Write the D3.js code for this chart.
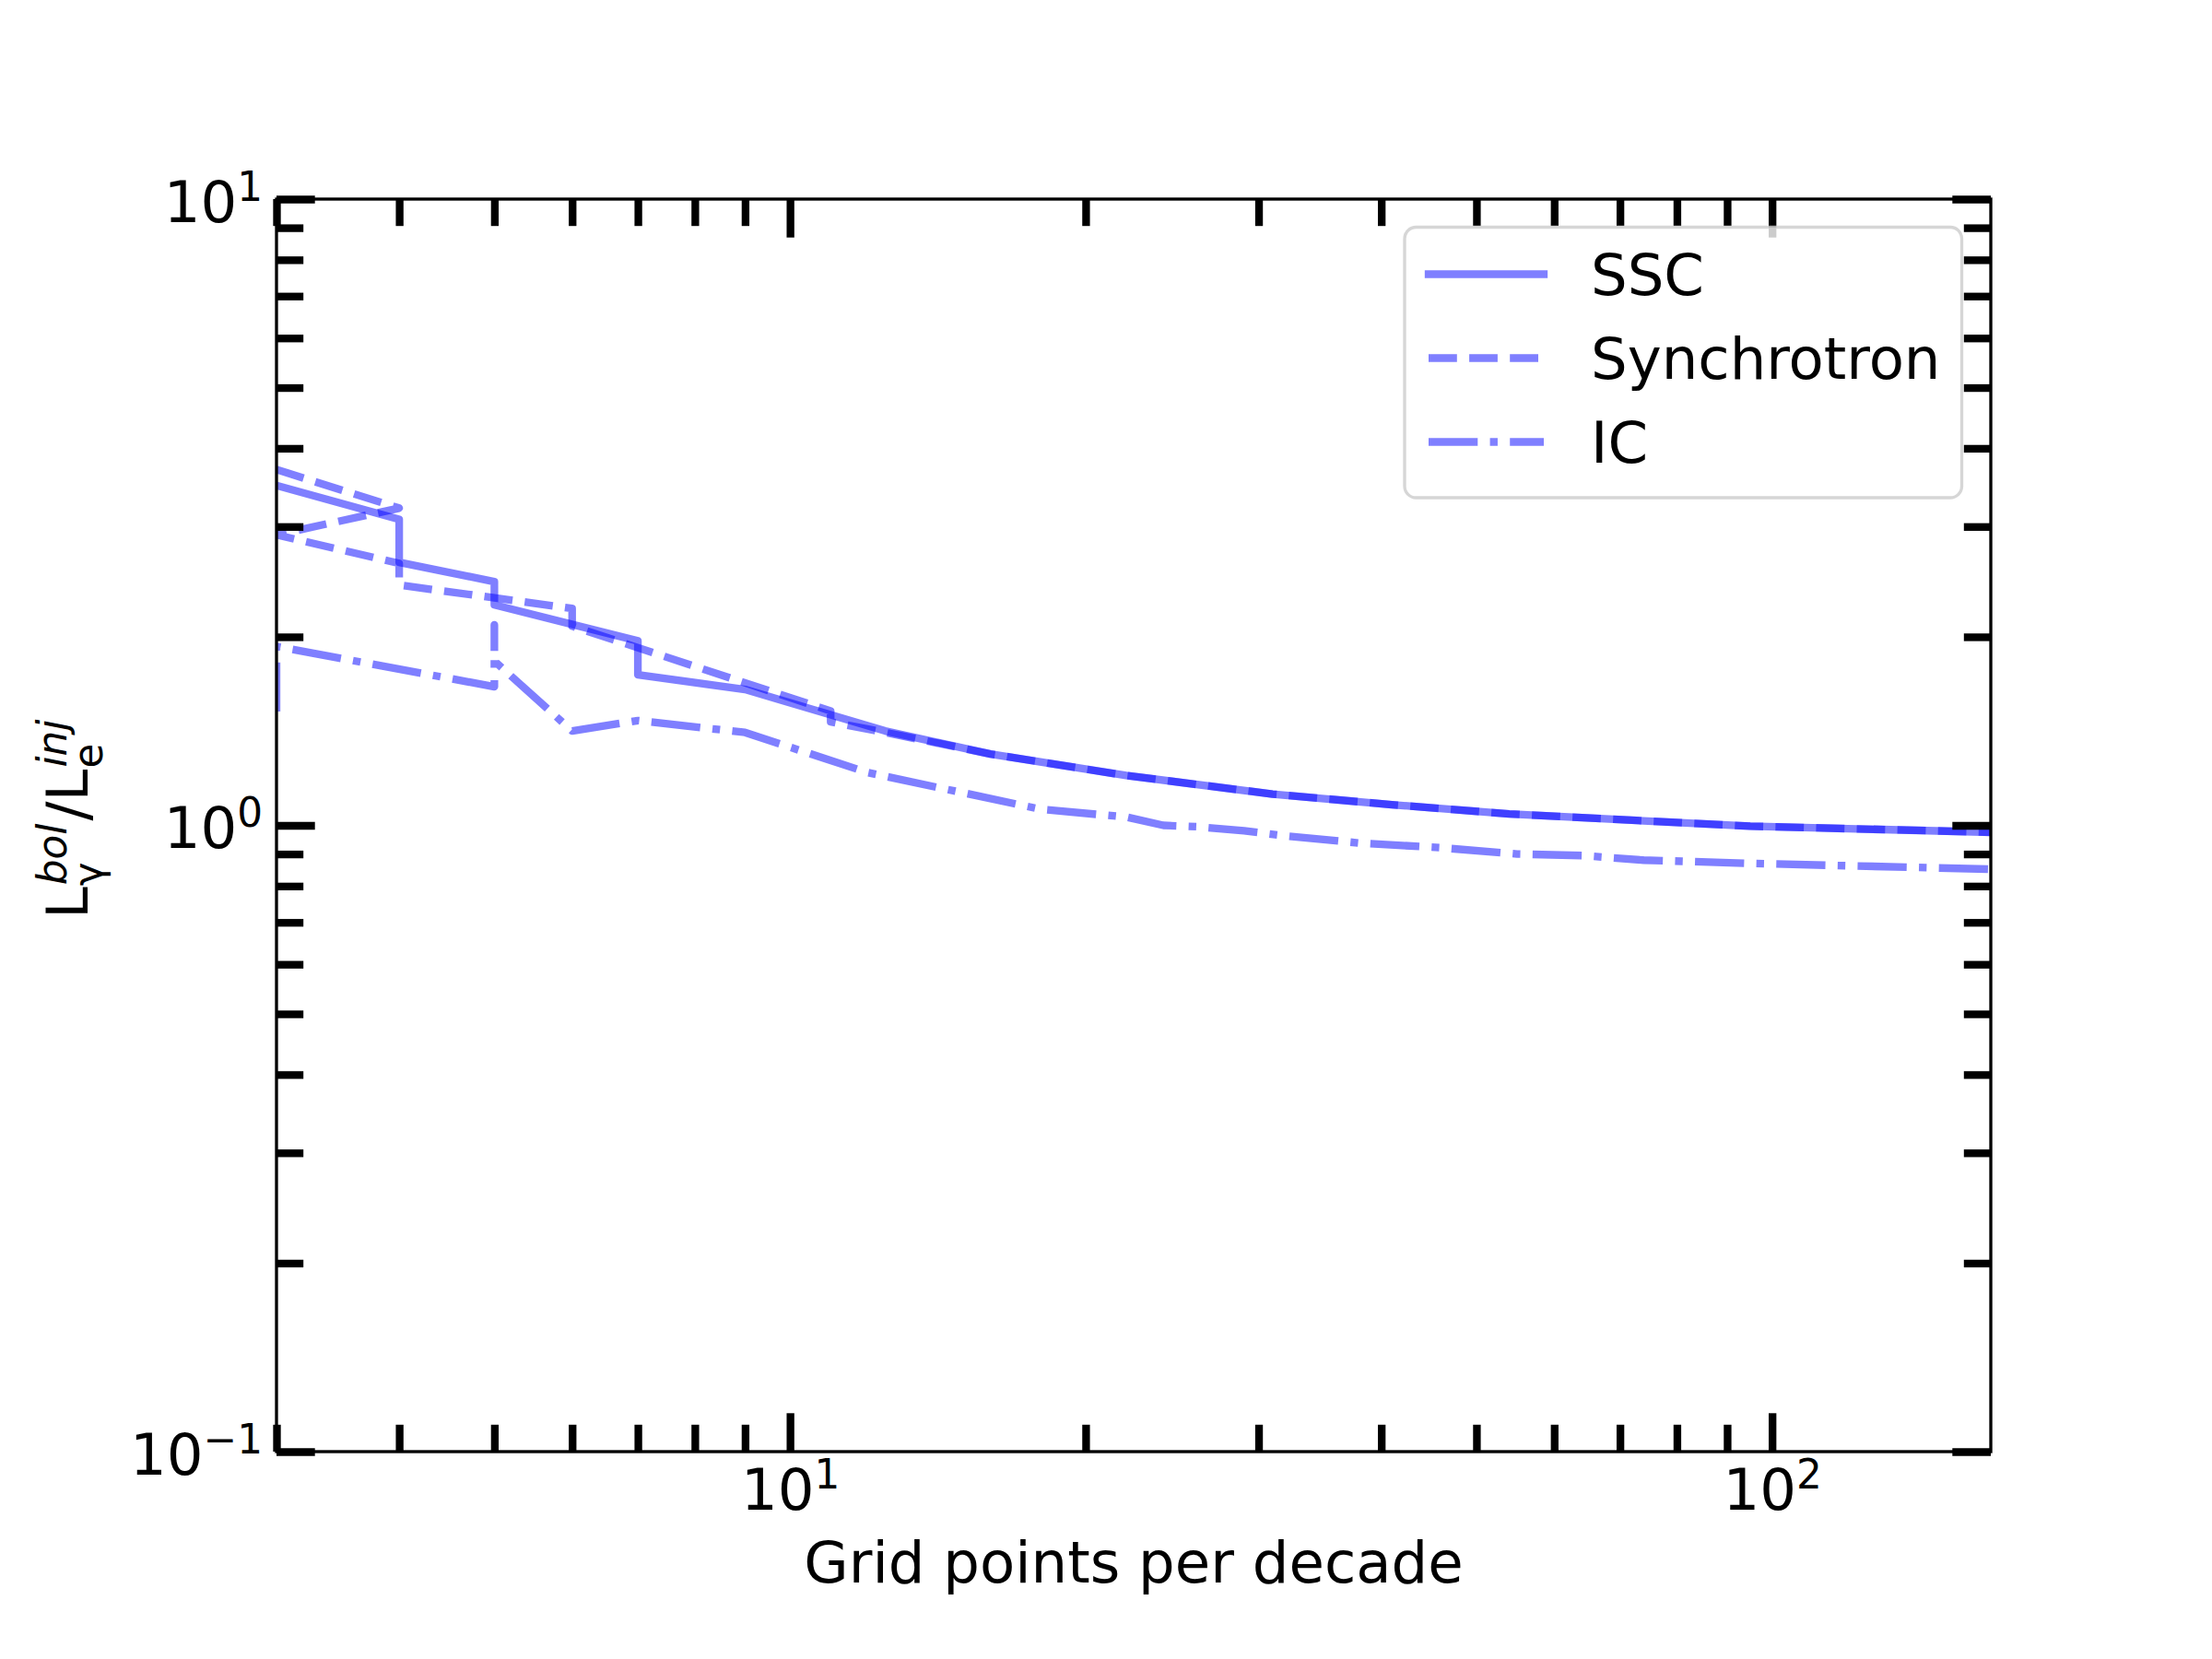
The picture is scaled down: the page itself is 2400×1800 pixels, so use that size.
<!DOCTYPE html>
<html><head><meta charset="utf-8">
<script src="https://cdn.jsdelivr.net/npm/d3@7"></script>
<style>html,body{margin:0;padding:0;background:#fff;} svg{display:block;}</style>
</head><body>
<svg id="chart" width="2400" height="1800"></svg>
<script>
// ---- data ----
const sscX = [3, 4, 4, 5, 5, 7, 7, 9, 12.5, 16, 22, 31, 41, 54, 72, 95, 167];
const sscY = [3.49, 3.08, 2.63, 2.45, 2.25, 1.97, 1.74, 1.648, 1.415, 1.30, 1.201, 1.122, 1.079, 1.043, 1.019, 0.997, 0.975];
const synX = [3, 4, 3, 4, 4, 6, 6, 11, 11, 13, 16, 22, 31, 41, 54, 72, 95, 167];
const synY = [3.70, 3.21, 2.91, 2.62, 2.42, 2.22, 2.08, 1.523, 1.463, 1.39, 1.30, 1.201, 1.122, 1.079, 1.043, 1.019, 0.997, 0.975];
const icX = [3, 3, 5, 5, 5, 6, 7, 9, 12, 18, 22, 24, 26, 29, 32, 38, 46, 55, 64, 74, 94, 167];
const icY = [1.52, 1.93, 1.665, 2.09, 1.83, 1.415, 1.47, 1.407, 1.214, 1.061, 1.031, 1.0, 0.995, 0.980, 0.962, 0.937, 0.921, 0.900, 0.895, 0.880, 0.870, 0.851];
const seriesNames = ["SSC", "Synchrotron", "IC"];
const xMajorTicks = [10, 100];
const xMinorTicks = [3, 4, 5, 6, 7, 8, 9, 20, 30, 40, 50, 60, 70, 80, 90];
const yMajorTicks = [0.1, 1, 10];
const yMinorTicks = [0.2, 0.3, 0.4, 0.5, 0.6, 0.7, 0.8, 0.9, 2, 3, 4, 5, 6, 7, 8, 9];
const xLabelText = "Grid points per decade";

// ---- layout ----
const W = 2400, H = 1800;
const L = 300, R = 2160, T = 216, B = 1575;
const FONT = "DejaVu Sans";
const FS = 62.5, FSS = 43.75;
const lw = 8.33;

const x = d3.scaleLog().domain([3, 167]).range([L, R]);
const y = d3.scaleLog().domain([0.1, 10]).range([B, T]);

const svg = d3.select("#chart");
svg.append("rect").attr("width", W).attr("height", H).attr("fill", "#fff");
svg.append("defs").append("clipPath").attr("id", "clip")
  .append("rect").attr("x", L).attr("y", T).attr("width", R - L).attr("height", B - T);

const series = [
  {xs: sscX, ys: sscY, dash: null},
  {xs: synX, ys: synY, dash: [30.8, 13.3]},
  {xs: icX, ys: icY, dash: [53.3, 13.3, 8.33, 13.3]}
];
const line = d3.line().x(d => x(d[0])).y(d => y(d[1]));
const gLines = svg.append("g").attr("clip-path", "url(#clip)");
series.forEach(s => {
  gLines.append("path")
    .datum(s.xs.map((v, i) => [v, s.ys[i]]))
    .attr("d", line)
    .attr("fill", "none")
    .attr("stroke", "#0000ff").attr("stroke-opacity", 0.5)
    .attr("stroke-width", lw)
    .attr("stroke-linejoin", "round")
    .attr("stroke-linecap", s.dash ? "butt" : "square")
    .attr("stroke-dasharray", s.dash ? s.dash.join(",") : null);
});

// ---- spines ----
svg.append("rect").attr("x", L).attr("y", T).attr("width", R - L).attr("height", B - T)
  .attr("fill", "none").attr("stroke", "#000").attr("stroke-width", 3.33);

// ---- ticks ----
function styleTicks(g) {
  g.select(".domain").remove();
  g.selectAll(".tick line").attr("stroke", "#000").attr("stroke-width", lw).attr("stroke-linecap", "butt");
  g.attr("font-family", FONT).attr("font-size", FS);
}
const MAJ = 41.7, MIN = 29.2;
function addAxis(gen, tx, ty, values, size, fmt) {
  const g = svg.append("g").attr("transform", `translate(${tx},${ty})`)
    .call(gen.tickValues(values).tickSizeInner(-size).tickSizeOuter(0).tickPadding(15).tickFormat(fmt || (() => "")));
  styleTicks(g);
  return g;
}
addAxis(d3.axisBottom(x), 0, B, xMinorTicks, MIN);
addAxis(d3.axisTop(x), 0, T, xMinorTicks, MIN);
addAxis(d3.axisLeft(y), L, 0, yMinorTicks, MIN);
addAxis(d3.axisRight(y), R, 0, yMinorTicks, MIN);
addAxis(d3.axisTop(x), 0, T, xMajorTicks, MAJ);
addAxis(d3.axisRight(y), R, 0, yMajorTicks, MAJ);

const gxb = addAxis(d3.axisBottom(x), 0, B, xMajorTicks, MAJ, d => "10");
gxb.selectAll(".tick text").attr("y", 63).attr("dy", null).attr("fill", "#000")
  .each(function(d) {
    const t = d3.select(this); t.text(null);
    t.append("tspan").text("10");
    const e = Math.round(Math.log10(d));
    t.append("tspan").attr("font-size", FSS).attr("dy", -23).text(e < 0 ? "\u2212" + (-e) : String(e));
  });
const gyl = addAxis(d3.axisLeft(y), L, 0, yMajorTicks, MAJ, d => "10");
gyl.selectAll(".tick text").attr("x", -15).attr("y", 24).attr("dy", null).attr("fill", "#000")
  .each(function(d) {
    const t = d3.select(this); t.text(null);
    t.append("tspan").text("10");
    const e = Math.round(Math.log10(d));
    t.append("tspan").attr("font-size", FSS).attr("dy", -23).text(e < 0 ? "\u2212" + (-e) : String(e));
  });

// ---- axis labels ----
svg.append("text").attr("x", (L + R) / 2).attr("y", 1717).attr("text-anchor", "middle")
  .attr("font-family", FONT).attr("font-size", FS).attr("fill", "#000").text(xLabelText);

const gy = svg.append("g").attr("transform", "translate(95,997) rotate(-90)")
  .attr("font-family", FONT).attr("fill", "#000");
let cx = 0;
function put(txt, size, dy, italic, xpos) {
  const t = gy.append("text").attr("x", xpos).attr("y", dy).attr("font-size", size)
    .attr("font-style", italic ? "italic" : "normal").text(txt);
  return t.node().getComputedTextLength();
}
let w = put("L", FS, 0, false, cx); cx += w + 1;
let w1 = put("\u03b3", FSS, 16, false, cx);
let w2 = put("bol", FSS, -23, true, cx + 1);
cx += Math.max(w1, w2 + 1) + 3;
w = put("/", FS, 0, false, cx); cx += w;
w = put("L", FS, 0, false, cx); cx += w + 1;
w1 = put("e", FSS, 16, false, cx);
w2 = put("inj", FSS, -23, true, cx + 1);

// ---- legend ----
const lg = svg.append("g");
lg.append("rect").attr("x", 1524).attr("y", 246.5).attr("width", 604.5).attr("height", 293.5)
  .attr("rx", 12.5).attr("ry", 12.5)
  .attr("fill", "#fff").attr("fill-opacity", 0.8)
  .attr("stroke", "#cccccc").attr("stroke-opacity", 0.8).attr("stroke-width", 3.33);
const legY = d3.scalePoint().domain(seriesNames).range([297.5, 479.5]);
series.forEach((s, i) => {
  const yy = legY(seriesNames[i]);
  lg.append("line").attr("x1", 1550).attr("x2", 1675).attr("y1", yy).attr("y2", yy)
    .attr("stroke", "#0000ff").attr("stroke-opacity", 0.5).attr("stroke-width", lw)
    .attr("stroke-linecap", s.dash ? "butt" : "square")
    .attr("stroke-dasharray", s.dash ? s.dash.join(",") : null);
  lg.append("text").attr("x", 1726).attr("y", yy + 22).attr("font-family", FONT)
    .attr("font-size", FS).attr("fill", "#000").text(seriesNames[i]);
});
</script>
</body></html>
